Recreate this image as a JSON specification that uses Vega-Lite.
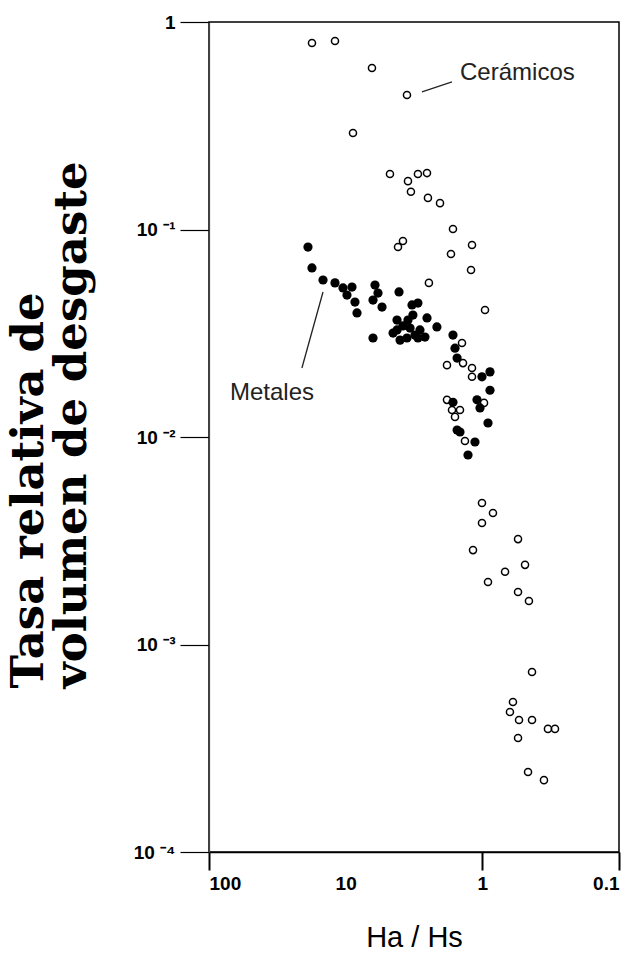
{
  "$schema": "https://vega.github.io/schema/vega-lite/v6.json",
  "width": 410,
  "height": 830,
  "autosize": {"type": "none"},
  "padding": {"left": 209, "top": 22, "right": 15, "bottom": 117},
  "background": "white",
  "config": {"view": {"stroke": "black", "strokeWidth": 1.5}, "axis": {"grid": false}},
  "datasets": {
    "ceramicos": [
      {"ha_hs": 17.64, "tasa": 0.792}, {"ha_hs": 11.97, "tasa": 0.81}, {"ha_hs": 6.42, "tasa": 0.6},
      {"ha_hs": 3.56, "tasa": 0.445}, {"ha_hs": 8.84, "tasa": 0.292}, {"ha_hs": 4.74, "tasa": 0.185},
      {"ha_hs": 3.5, "tasa": 0.171}, {"ha_hs": 3.33, "tasa": 0.152}, {"ha_hs": 2.96, "tasa": 0.185},
      {"ha_hs": 2.54, "tasa": 0.187}, {"ha_hs": 2.5, "tasa": 0.142}, {"ha_hs": 2.04, "tasa": 0.134},
      {"ha_hs": 1.64, "tasa": 0.1006}, {"ha_hs": 1.19, "tasa": 0.0842}, {"ha_hs": 1.696, "tasa": 0.0762},
      {"ha_hs": 1.21, "tasa": 0.0638}, {"ha_hs": 4.14, "tasa": 0.0823}, {"ha_hs": 3.81, "tasa": 0.0881},
      {"ha_hs": 2.46, "tasa": 0.0553}, {"ha_hs": 0.956, "tasa": 0.0409}, {"ha_hs": 1.409, "tasa": 0.0284},
      {"ha_hs": 1.814, "tasa": 0.0222}, {"ha_hs": 1.385, "tasa": 0.0227}, {"ha_hs": 1.19, "tasa": 0.0215},
      {"ha_hs": 1.19, "tasa": 0.0195}, {"ha_hs": 1.814, "tasa": 0.0151}, {"ha_hs": 1.667, "tasa": 0.0135},
      {"ha_hs": 1.457, "tasa": 0.0135}, {"ha_hs": 1.585, "tasa": 0.0125}, {"ha_hs": 0.972, "tasa": 0.0146},
      {"ha_hs": 1.34, "tasa": 0.00957}, {"ha_hs": 1.006, "tasa": 0.00481}, {"ha_hs": 0.836, "tasa": 0.0043},
      {"ha_hs": 1.006, "tasa": 0.00385}, {"ha_hs": 0.548, "tasa": 0.00322}, {"ha_hs": 1.17, "tasa": 0.00285},
      {"ha_hs": 0.487, "tasa": 0.00242}, {"ha_hs": 0.682, "tasa": 0.00224}, {"ha_hs": 0.909, "tasa": 0.002},
      {"ha_hs": 0.548, "tasa": 0.00179}, {"ha_hs": 0.456, "tasa": 0.00162}, {"ha_hs": 0.433, "tasa": 0.000737},
      {"ha_hs": 0.597, "tasa": 0.000528}, {"ha_hs": 0.628, "tasa": 0.000473}, {"ha_hs": 0.539, "tasa": 0.000433},
      {"ha_hs": 0.433, "tasa": 0.000433}, {"ha_hs": 0.331, "tasa": 0.000392}, {"ha_hs": 0.294, "tasa": 0.000392},
      {"ha_hs": 0.548, "tasa": 0.000354}, {"ha_hs": 0.463, "tasa": 0.000243}, {"ha_hs": 0.354, "tasa": 0.000222}
    ],
    "metales": [
      {"ha_hs": 18.87, "tasa": 0.0823}, {"ha_hs": 17.64, "tasa": 0.0653}, {"ha_hs": 14.65, "tasa": 0.0571},
      {"ha_hs": 11.97, "tasa": 0.0553}, {"ha_hs": 10.46, "tasa": 0.0523}, {"ha_hs": 8.99, "tasa": 0.0528},
      {"ha_hs": 9.78, "tasa": 0.0483}, {"ha_hs": 8.55, "tasa": 0.0447}, {"ha_hs": 8.26, "tasa": 0.0396},
      {"ha_hs": 6.1, "tasa": 0.054}, {"ha_hs": 5.8, "tasa": 0.0494}, {"ha_hs": 6.31, "tasa": 0.0457},
      {"ha_hs": 5.42, "tasa": 0.0423}, {"ha_hs": 4.07, "tasa": 0.05}, {"ha_hs": 6.31, "tasa": 0.03},
      {"ha_hs": 4.21, "tasa": 0.0366}, {"ha_hs": 4.5, "tasa": 0.0317}, {"ha_hs": 4.0, "tasa": 0.0293},
      {"ha_hs": 3.5, "tasa": 0.0366}, {"ha_hs": 3.27, "tasa": 0.0433}, {"ha_hs": 2.96, "tasa": 0.0442},
      {"ha_hs": 3.38, "tasa": 0.0335}, {"ha_hs": 3.11, "tasa": 0.031}, {"ha_hs": 2.86, "tasa": 0.0328},
      {"ha_hs": 2.63, "tasa": 0.0303}, {"ha_hs": 2.54, "tasa": 0.0375}, {"ha_hs": 2.15, "tasa": 0.0339},
      {"ha_hs": 3.56, "tasa": 0.03}, {"ha_hs": 2.96, "tasa": 0.03}, {"ha_hs": 4.21, "tasa": 0.0328},
      {"ha_hs": 3.81, "tasa": 0.0343}, {"ha_hs": 3.22, "tasa": 0.0387}, {"ha_hs": 1.64, "tasa": 0.031},
      {"ha_hs": 1.585, "tasa": 0.0268}, {"ha_hs": 1.53, "tasa": 0.024}, {"ha_hs": 1.006, "tasa": 0.0195},
      {"ha_hs": 0.879, "tasa": 0.0206}, {"ha_hs": 0.879, "tasa": 0.0168}, {"ha_hs": 1.094, "tasa": 0.0151},
      {"ha_hs": 1.64, "tasa": 0.0147}, {"ha_hs": 0.909, "tasa": 0.01168}, {"ha_hs": 1.53, "tasa": 0.0108},
      {"ha_hs": 1.132, "tasa": 0.00946}, {"ha_hs": 1.273, "tasa": 0.00819}, {"ha_hs": 1.04, "tasa": 0.0138},
      {"ha_hs": 1.457, "tasa": 0.01057}
    ],
    "guias": [
      {"ha_hs": 2.764, "tasa": 0.46, "ha_hs2": 1.667, "tasa2": 0.514},
      {"ha_hs": 14.65, "tasa": 0.05, "ha_hs2": 20.9, "tasa2": 0.0215}
    ],
    "notas": [
      {"ha_hs": 1.456, "tasa": 0.568, "texto": "Cerámicos"},
      {"ha_hs": 70.2, "tasa": 0.0163, "texto": "Metales"}
    ]
  },
  "encoding": {
    "x": {
      "field": "ha_hs", "type": "quantitative",
      "scale": {"type": "log", "domain": [0.1, 100], "reverse": true, "nice": false},
      "axis": {
        "values": [100, 10, 1, 0.1], "format": "~g", "labelOverlap": false,
        "title": "Ha / Hs", "titleFont": "Liberation Sans", "titleFontSize": 29, "titleFontWeight": "normal",
        "titleColor": "black", "titlePadding": 30,
        "labelFont": "Liberation Sans", "labelFontWeight": "bold", "labelFontSize": 19, "labelColor": "black", "labelPadding": 4,
        "tickSize": 18, "tickWidth": 2, "tickColor": "black",
        "tickOpacity": {"condition": {"test": "datum.value == 10", "value": 0}, "value": 1},
        "domainColor": "black", "domainWidth": 1.5
      }
    },
    "y": {
      "field": "tasa", "type": "quantitative",
      "scale": {"type": "log", "domain": [0.0001, 1], "nice": false},
      "axis": {
        "values": [1, 0.1, 0.01, 0.001, 0.0001], "labelOverlap": false,
        "labelExpr": "datum.value >= 0.5 ? '1' : datum.value >= 0.05 ? '10 ⁻¹' : datum.value >= 0.005 ? '10 ⁻²' : datum.value >= 0.0005 ? '10 ⁻³' : '10 ⁻⁴'",
        "title": ["Tasa relativa de", "volumen de desgaste"],
        "titleFont": "DejaVu Serif", "titleFontSize": 45, "titleFontWeight": "bold", "titleColor": "black",
        "titleLineHeight": 43, "titleAngle": -90, "titleAlign": "left", "titleBaseline": "alphabetic",
        "titleX": -167, "titleY": 666,
        "labelFont": "Liberation Sans", "labelFontWeight": "bold", "labelFontSize": 19, "labelColor": "black", "labelPadding": 5,
        "tickSize": 29, "tickWidth": 1.2, "tickColor": "black",
        "domainColor": "#444", "domainWidth": 1.2
      }
    }
  },
  "layer": [
    {
      "data": {"name": "ceramicos"},
      "mark": {"type": "point", "shape": "circle", "filled": false, "stroke": "black", "strokeWidth": 1.5, "size": 50, "opacity": 1}
    },
    {
      "data": {"name": "metales"},
      "mark": {"type": "point", "shape": "circle", "filled": true, "fill": "black", "size": 85, "opacity": 1}
    },
    {
      "data": {"name": "guias"},
      "mark": {"type": "rule", "stroke": "#222", "strokeWidth": 1.3},
      "encoding": {"x2": {"field": "ha_hs2"}, "y2": {"field": "tasa2"}}
    },
    {
      "data": {"name": "notas"},
      "mark": {"type": "text", "font": "Liberation Sans", "fontSize": 24, "align": "left", "baseline": "middle", "color": "#222"},
      "encoding": {"text": {"field": "texto"}}
    }
  ]
}
